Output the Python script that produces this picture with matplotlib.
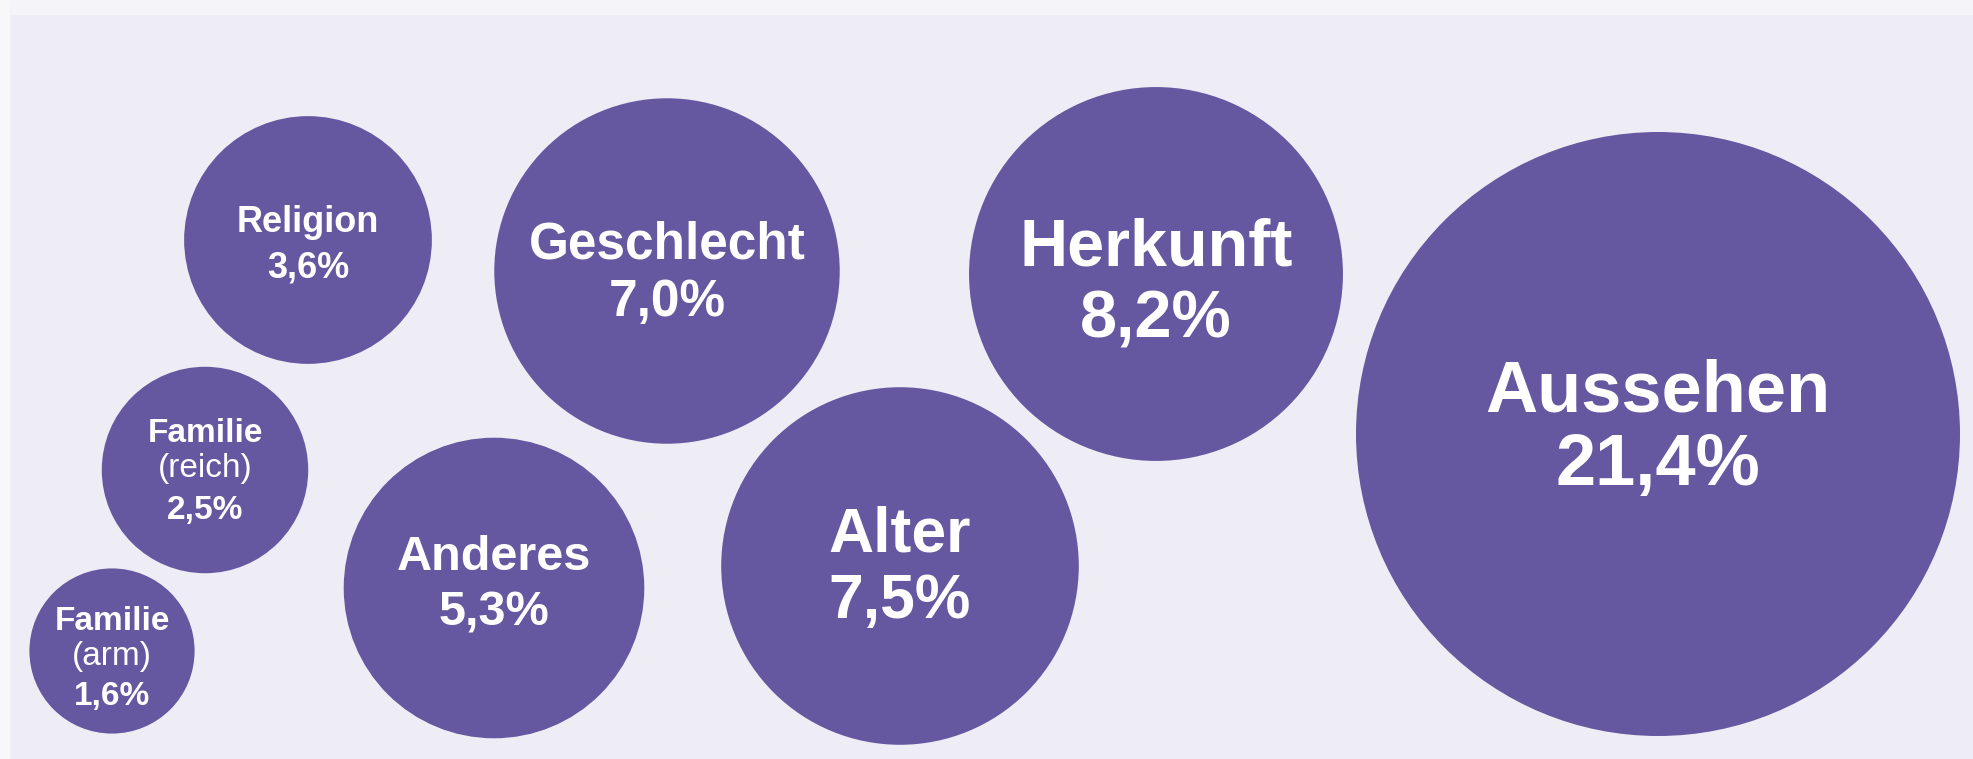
import numpy as np
import matplotlib.pyplot as plt
from matplotlib.patches import Circle

# data
labels = ['Aussehen', 'Herkunft', 'Alter', 'Geschlecht', 'Anderes', 'Religion', 'Familie', 'Familie']
sublabels = ['', '', '', '', '', '', '(reich)', '(arm)']
values = [21.4, 8.2, 7.5, 7.0, 5.3, 3.6, 2.5, 1.6]

# layout (pixel coords, y down)
centers = [(1658, 434), (1156, 274), (900, 566), (667, 271), (494, 588), (308, 240), (205, 470), (112, 651)]
fsizes = [52, 48, 45, 37, 35, 26, 24, 24]
line_dy = [(-41, 32), (-26, 47), (-31, 35), (-26, 31), (-31, 25), (-17, 28), (-37, -2, 40), (-29, 6, 46)]

bg = '#eeedf5'
purple = '#6557a0'
font = 'Liberation Sans'

fig = plt.figure(figsize=(19.73, 7.59), dpi=100, facecolor=bg)
ax = fig.add_axes([0, 0, 1, 1])
ax.set_xlim(0, 1973)
ax.set_ylim(759, 0)
ax.set_aspect('equal')
ax.axis('off')
ax.axhspan(0, 14, color='#f5f4f9', zorder=0)
ax.axvspan(0, 9, color='#f8f8fb', zorder=0)

k = 302 / np.sqrt(max(values))  # radius scale, area ~ value

for lab, sub, v, (cx, cy), fs, dys in zip(labels, sublabels, values, centers, fsizes, line_dy):
    ax.add_patch(Circle((cx, cy), k * np.sqrt(v), facecolor=purple, edgecolor='none', zorder=2))
    val = f'{v:.1f}'.replace('.', ',') + '%'
    if sub:
        lines = [(lab, 'bold'), (sub, 'normal'), (val, 'bold')]
    else:
        lines = [(lab, 'bold'), (val, 'bold')]
    for (txt, w), dy in zip(lines, dys):
        ax.text(cx, cy + dy, txt, ha='center', va='center', color='white',
                fontsize=fs, fontweight=w, family=font, zorder=3)

plt.savefig('out.png', dpi=100, facecolor=bg)
